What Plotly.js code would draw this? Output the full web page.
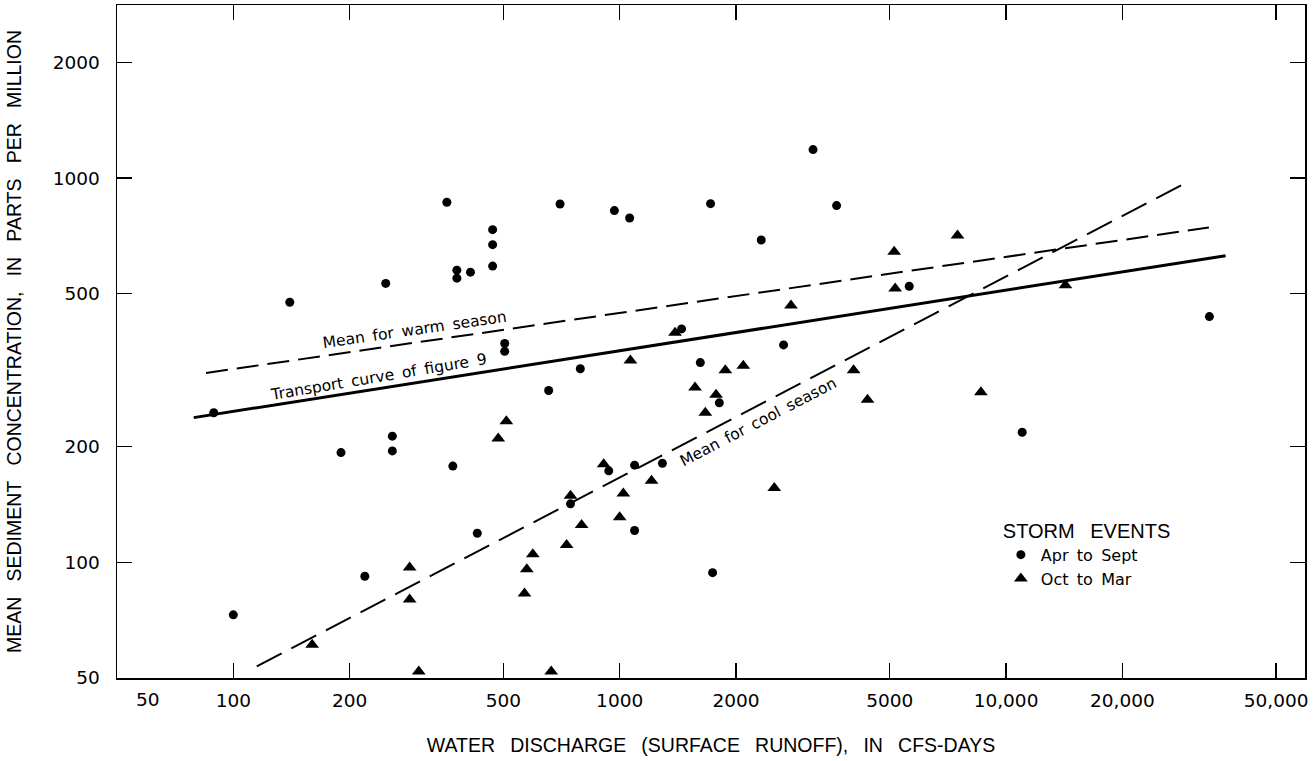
<!DOCTYPE html>
<html>
<head>
<meta charset="utf-8">
<script src="https://cdn.plot.ly/plotly-3.0.1.min.js"></script>
<style>html,body{margin:0;padding:0;background:#fff;}#chart{width:1316px;height:761px;}</style>
</head>
<body>
<div id="chart"></div>
<script>
// Storm events, April to September (circles)
const warmX = [89,100,140,190,258,258,219,370,428,248,357,379,379,411,469,469,469,504,504,701,969,1061,1719,3166,3643,2325,1446,791,655,1617,2656,1811,5616,33600,11010,937,1093,1290,746,1093,1740];
const warmY = [245,73,475,193,213,195,92,178,119,532,865,576,549,569,734,671,590,371,354,856,823,787,858,1186,848,690,405,319,280,331,368,260,523,436,218,173,179,181,142,121,94];
// Storm events, October to March (triangles)
const coolX = [160,286,286,302,485,509,1066,5134,5165,2776,1391,1567,1877,2089,1776,1666,4031,4381,7489,14250,8610,909,746,1022,1209,1000,797,729,596,575,567,665,2513];
const coolY = [61,97,80,52,210,233,335,643,516,466,396,285,316,325,273,245,316,265,709,526,277,180,149,151,163,131,125,111,105,96,83,52,156];
// Fitted lines (end points)
const transportX = [79, 37000];
const transportY = [238, 628];
const warmMeanX = [85, 33500];
const warmMeanY = [311, 744];
const coolMeanX = [115, 28700];
const coolMeanY = [53.6, 963];
// Ticks
const xTickVals = [50,100,200,500,1000,2000,5000,10000,20000,50000];
const xTickText = ["","100","200","500","1000","2000","5000","10,000","20,000","50,000"];
const yTickVals = [50,100,200,500,1000,2000];
const yTickText = ["50","100","200","500","1000","2000"];
const legendTitle = ["STORM", "EVENTS"];
const seriesNames = [["Apr", "to", "Sept"], ["Oct", "to", "Mar"]];

const sp = "\u2002\u00a0";
const sp2 = "\u00a0\u2009";
const traces = [
  {x: transportX, y: transportY, mode: "lines", line: {color: "#000", width: 3}, showlegend: false, hoverinfo: "skip"},
  {x: warmMeanX, y: warmMeanY, mode: "lines", line: {color: "#000", width: 2, dash: "22px,9px"}, showlegend: false, hoverinfo: "skip"},
  {x: coolMeanX, y: coolMeanY, mode: "lines", line: {color: "#000", width: 2, dash: "28px,11px"}, showlegend: false, hoverinfo: "skip"},
  {x: warmX, y: warmY, mode: "markers", name: seriesNames[0].join(sp2), marker: {symbol: "circle", size: 9, color: "#000"}},
  {x: coolX, y: coolY, mode: "markers", name: seriesNames[1].join(sp2), marker: {symbol: "triangle-up", size: 12, color: "#000"}}
];

const tickFont = {family: "DejaVu Sans", size: 18.5, color: "#000"};
const titleFont = {family: "Liberation Sans, Arial, sans-serif", size: 19.5, color: "#000"};
const labelFont = {family: "DejaVu Sans", size: 15.5, color: "#000"};

const layout = {
  width: 1316, height: 761,
  margin: {l: 117, r: 11, t: 5, b: 83},
  paper_bgcolor: "#fff", plot_bgcolor: "#fff",
  showlegend: true,
  legend: {
    x: 0.744, y: 0.247, xanchor: "left", yanchor: "top",
    bgcolor: "rgba(0,0,0,0)",
    font: {family: "DejaVu Sans", size: 16, color: "#000", weight: "normal"},
    title: {text: legendTitle.join(sp), font: {family: "Liberation Sans, Arial, sans-serif", size: 20, color: "#000", weight: "normal"}},
    itemclick: false
  },
  xaxis: {
    type: "log",
    range: [Math.log10(50), Math.log10(59400)],
    tickvals: xTickVals, ticktext: xTickText,
    ticks: "inside", ticklen: 15, tickwidth: 1.5, tickcolor: "#000",
    showline: true, linecolor: "#000", linewidth: 1.5, mirror: "ticks",
    showgrid: false, zeroline: false,
    tickfont: tickFont,
    ticklabelstandoff: 5,
    title: {text: "WATER" + sp + "DISCHARGE" + sp + "(SURFACE" + sp + "RUNOFF)," + sp + "IN" + sp + "CFS-DAYS", font: titleFont, standoff: 28},
    automargin: false
  },
  yaxis: {
    type: "log",
    range: [Math.log10(50), Math.log10(2821)],
    tickvals: yTickVals, ticktext: yTickText,
    ticks: "inside", ticklen: 15, tickwidth: 1.5, tickcolor: "#000",
    showline: true, linecolor: "#000", linewidth: 1.5, mirror: "ticks",
    showgrid: false, zeroline: false,
    tickfont: tickFont,
    ticklabelstandoff: 12,
    title: {text: "MEAN" + sp + "SEDIMENT" + sp + "CONCENTRATION," + sp + "IN" + sp + "PARTS" + sp + "PER" + sp + "MILLION", font: titleFont, standoff: 26},
    automargin: false
  },
  annotations: [
    {xref: "x", yref: "paper", x: Math.log10(xTickVals[0]), y: 0, xshift: 31, yanchor: "top", yshift: -9,
     text: "50", showarrow: false, font: tickFont},
    {xref: "x", yref: "y", x: 2.4687, y: 2.6034, text: ["Mean", "for", "warm", "season"].join(sp2),
     textangle: -8.2, showarrow: false, font: labelFont},
    {xref: "x", yref: "y", x: 2.3769, y: 2.4823, text: ["Transport", "curve", "of", "figure", "9"].join(sp2),
     textangle: -9.5, showarrow: false, font: labelFont},
    {xref: "x", yref: "y", x: 3.3588, y: 2.3664, text: ["Mean", "for", "cool", "season"].join(sp2),
     textangle: -27.5, showarrow: false, font: labelFont}
  ]
};

Plotly.newPlot("chart", traces, layout, {displayModeBar: false, staticPlot: true});
</script>
</body>
</html>
